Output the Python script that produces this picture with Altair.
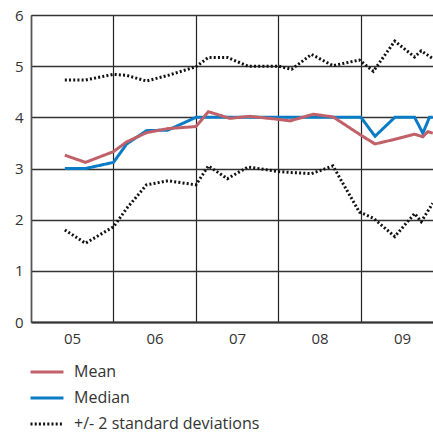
import altair as alt
import pandas as pd

# time positions (year offset, 5 = start of 2005)
t_main = [5.41, 5.66, 6.0, 6.16, 6.40, 6.66, 7.0, 7.15, 7.41, 7.65, 8.0, 8.14, 8.42, 8.66,
          9.0, 9.17, 9.41, 9.65, 9.75, 9.81, 9.87]
mean_vals = [3.26, 3.12, 3.33, 3.52, 3.70, 3.78, 3.82, 4.11, 3.98, 4.02, 3.96, 3.93, 4.06, 4.01,
             3.65, 3.48, 3.57, 3.67, 3.62, 3.72, 3.69]
t_med = [5.41, 5.66, 6.0, 6.16, 6.40, 6.66, 7.0, 7.15, 7.41, 7.65, 8.0, 8.14, 8.42, 8.66,
         9.0, 9.17, 9.41, 9.65, 9.75, 9.83, 9.87]
median_vals = [3.0, 3.0, 3.12, 3.48, 3.74, 3.75, 4.0, 4.0, 4.0, 4.0, 4.0, 4.0, 4.0, 4.0,
               4.0, 3.63, 4.0, 4.0, 3.69, 4.0, 4.0]
t_band = [5.41, 5.66, 6.0, 6.16, 6.40, 6.66, 7.0, 7.15, 7.38, 7.63, 8.0, 8.16, 8.40, 8.66,
          8.98, 9.15, 9.41, 9.65, 9.73, 9.87]
upper_vals = [4.73, 4.73, 4.84, 4.82, 4.71, 4.82, 4.99, 5.17, 5.17, 5.0, 5.0, 4.94, 5.23, 5.01,
              5.12, 4.90, 5.49, 5.18, 5.30, 5.15]
lower_vals = [1.80, 1.54, 1.86, 2.22, 2.68, 2.76, 2.68, 3.05, 2.80, 3.03, 2.94, 2.92, 2.90, 3.05,
              2.15, 2.03, 1.67, 2.12, 1.96, 2.32]

year_ticks = [5, 6, 7, 8, 9]
y_ticks = [0, 1, 2, 3, 4, 5, 6]

LBL_MEAN = "Mean"
LBL_MED = "Median"
LBL_SD = "+/- 2 standard deviations"
labels = [LBL_MEAN, LBL_MED, LBL_SD]

rows = []
for t, v in zip(t_main, mean_vals):
    rows.append({"t": t, "v": v, "label": LBL_MEAN, "series": "mean"})
for t, v in zip(t_med, median_vals):
    rows.append({"t": t, "v": v, "label": LBL_MED, "series": "median"})
for t, v in zip(t_band, upper_vals):
    rows.append({"t": t, "v": v, "label": LBL_SD, "series": "upper"})
for t, v in zip(t_band, lower_vals):
    rows.append({"t": t, "v": v, "label": LBL_SD, "series": "lower"})
df = pd.DataFrame(rows)

x_enc = alt.X("t:Q", scale=alt.Scale(domain=[5, 9.873], nice=False, zero=False),
              axis=alt.Axis(values=year_ticks, labelExpr="'0' + datum.value",
                            labelOffset=41, labelFlush=False, ticks=False, grid=True,
                            title=None, labelPadding=9))
y_enc = alt.Y("v:Q", scale=alt.Scale(domain=[0, 6], nice=False),
              axis=alt.Axis(values=y_ticks, ticks=False, grid=True, title=None,
                            labelPadding=8))
color_enc = alt.Color("label:N",
                      scale=alt.Scale(domain=labels, range=["#c0616a", "#0a7cc6", "#111111"]),
                      legend=alt.Legend(title=None, orient="none", legendX=-2, legendY=339,
                                        direction="vertical", symbolType="stroke",
                                        symbolSize=1089, labelOffset=9, rowPadding=-16,
                                        labelFontSize=16, labelColor="#333333",
                                        labelLimit=400, symbolStrokeWidth=3))
dash_enc = alt.StrokeDash("label:N",
                          scale=alt.Scale(domain=labels, range=[[1, 0], [1, 0], [2, 2.2]]),
                          legend=None)
width_enc = alt.StrokeWidth("label:N",
                            scale=alt.Scale(domain=labels, range=[3, 3, 2]),
                            legend=None)

base = alt.Chart(df).encode(x=x_enc, y=y_enc, color=color_enc, strokeDash=dash_enc,
                            strokeWidth=width_enc, detail="series:N")

band = base.mark_line().transform_filter(alt.datum.label == LBL_SD)
med = base.mark_line().transform_filter(alt.datum.label == LBL_MED)
mean = base.mark_line().transform_filter(alt.datum.label == LBL_MEAN)

chart = alt.layer(band, med, mean).properties(
    width=402, height=307,
    autosize=alt.AutoSizeParams(type="none"),
    padding={"left": 31, "top": 15, "right": 0, "bottom": 111},
).configure(font="Open Sans").configure_view(stroke=None).configure_axisX(
    gridColor="#222222", gridWidth=1.2, gridOpacity=1, domainColor="#333333", domainWidth=2,
    labelFontSize=15, labelColor="#333333"
).configure_axisY(
    gridColor="#333333", gridWidth=1.6, gridOpacity=1, domainColor="#555555", domainWidth=1.6,
    labelFontSize=15, labelColor="#333333"
)

chart.save("out.html", embed_options={"renderer": "svg", "actions": False})
